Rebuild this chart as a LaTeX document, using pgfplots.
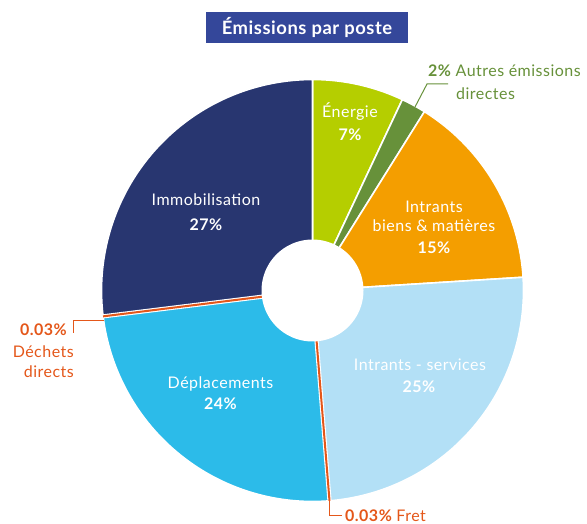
\documentclass[border=0pt]{standalone}
\usepackage{pgfplots}
\pgfplotsset{compat=1.18}
\usepackage{fontspec}
\setmainfont{Lato}[LetterSpace=3]
\definecolor{titleblue}{HTML}{34479A}
\definecolor{cEne}{HTML}{B5CE00}
\definecolor{cAut}{HTML}{67913A}
\definecolor{cIB}{HTML}{F49E00}
\definecolor{cIS}{HTML}{B3E0F6}
\definecolor{cDep}{HTML}{2CBBE9}
\definecolor{cImm}{HTML}{283670}
\definecolor{cOra}{HTML}{E4571A}
\tikzset{lbl/.style={font=\fontsize{16}{18}\selectfont, text=white, anchor=base}}
% shares in percent, clockwise from the top
\def\vEne{7.0}\def\vAut{1.9}\def\vIB{15.1}\def\vIS{24.7}\def\vFret{0.03}\def\vDep{24.3}\def\vDech{0.03}\def\vImm{26.94}
\pgfmathsetmacro\tot{\vEne+\vAut+\vIB+\vIS+\vFret+\vDep+\vDech+\vImm}
\pgfmathsetmacro\k{360/\tot}
\def\cx{312.5}\def\cy{290.5}\def\R{211}\def\rh{51}
\newcommand\slice[3]{%
  \pgfmathsetmacro\aHi{90-\k*(#1)}%
  \pgfmathsetmacro\aLo{90-\k*(#2)}%
  \addplot[fill=#3, draw=white, line width=1.6pt, line join=round,
    domain=\aLo:\aHi, samples=90, variable=\t]
    ({\cx+\R*cos(\t)},{\cy-\R*sin(\t)}) -- (axis cs:\cx,\cy) -- cycle;
}
\newcommand\thinslice[1]{%
  \pgfmathsetmacro\aM{90-\k*(#1)}%
  \addplot[draw=white, line width=4.2pt, domain=0:1, samples=2, variable=\s]
    ({\cx+\R*\s*cos(\aM)},{\cy-\R*\s*sin(\aM)});
  \addplot[draw=cOra, line width=2pt, domain=0:1, samples=2, variable=\s]
    ({\cx+\R*\s*cos(\aM)},{\cy-\R*\s*sin(\aM)});
}
\begin{document}
\begin{tikzpicture}
\begin{axis}[
  width=587pt, height=524pt, scale only axis,
  xmin=0, xmax=587, ymin=0, ymax=524, y dir=reverse,
  hide axis, clip=false,
  every axis plot/.append style={mark=none},
]
\pgfmathsetmacro\cA{\vEne}
\pgfmathsetmacro\cB{\cA+\vAut}
\pgfmathsetmacro\cC{\cB+\vIB}
\pgfmathsetmacro\cD{\cC+\vIS}
\pgfmathsetmacro\cE{\cD+\vFret}
\pgfmathsetmacro\cF{\cE+\vDep}
\pgfmathsetmacro\cG{\cF+\vDech}
\pgfmathsetmacro\cH{\cG+\vImm}
\slice{0}{\cA}{cEne}
\slice{\cA}{\cB}{cAut}
\slice{\cB}{\cC}{cIB}
\slice{\cC}{\cD}{cIS}
\slice{\cE}{\cF}{cDep}
\slice{\cG}{\cH}{cImm}
\pgfmathsetmacro\mF{\cD+\vFret/2}
\pgfmathsetmacro\mG{\cF+\vDech/2}
\thinslice{\mF}
\thinslice{\mG}
\addplot[fill=white, draw=none, domain=0:360, samples=120, variable=\t]
  ({\cx+\rh*cos(\t)},{\cy-\rh*sin(\t)}) -- cycle;
% title
\node[fill=titleblue, text=white, font=\bfseries\fontsize{18.4}{21}\selectfont,
  minimum width=202pt, minimum height=31pt, inner sep=0pt] at (axis cs:307,27.5) {Émissions par poste};
% slice labels
\node[lbl] at (axis cs:350,118) {Énergie};
\node[lbl] at (axis cs:350,141) {\bfseries 7\%};
\node[lbl] at (axis cs:206,206) {Immobilisation};
\node[lbl] at (axis cs:206,230) {\bfseries 27\%};
\node[lbl] at (axis cs:434,213) {Intrants};
\node[lbl] at (axis cs:434,232) {biens \& matières};
\node[lbl] at (axis cs:434,254) {\bfseries 15\%};
\node[lbl] at (axis cs:420,370) {Intrants - services};
\node[lbl] at (axis cs:419,392) {\bfseries 25\%};
\node[lbl] at (axis cs:220.5,388) {Déplacements};
\node[lbl] at (axis cs:220.5,409) {\bfseries 24\%};
% outside labels
\draw[cAut, line width=1pt] (axis cs:415,107) -- (axis cs:427,84) -- (axis cs:448,84);
\node[lbl, text=cAut, anchor=base west, inner sep=0pt] at (axis cs:428,77) {{\bfseries 2\%} Autres émissions};
\node[lbl, text=cAut, anchor=base west, inner sep=0pt] at (axis cs:456,100) {directes};
\draw[cOra, line width=1pt] (axis cs:104,320) -- (axis cs:73,320) -- (axis cs:73,333);
\node[lbl, text=cOra, anchor=base east, inner sep=0pt] at (axis cs:67,335) {\bfseries 0.03\%};
\node[lbl, text=cOra, anchor=base east, inner sep=0pt] at (axis cs:74,357) {Déchets};
\node[lbl, text=cOra, anchor=base east, inner sep=0pt] at (axis cs:74,377) {directs};
\draw[cOra, line width=1pt] (axis cs:329.5,500) -- (axis cs:329.5,515.5) -- (axis cs:342,515.5);
\node[lbl, text=cOra, anchor=base west, inner sep=0pt] at (axis cs:345,521) {{\bfseries 0.03\%} Fret};
\end{axis}
\pgfresetboundingbox
\path (current axis.south west) rectangle (current axis.north east);
\end{tikzpicture}
\end{document}
